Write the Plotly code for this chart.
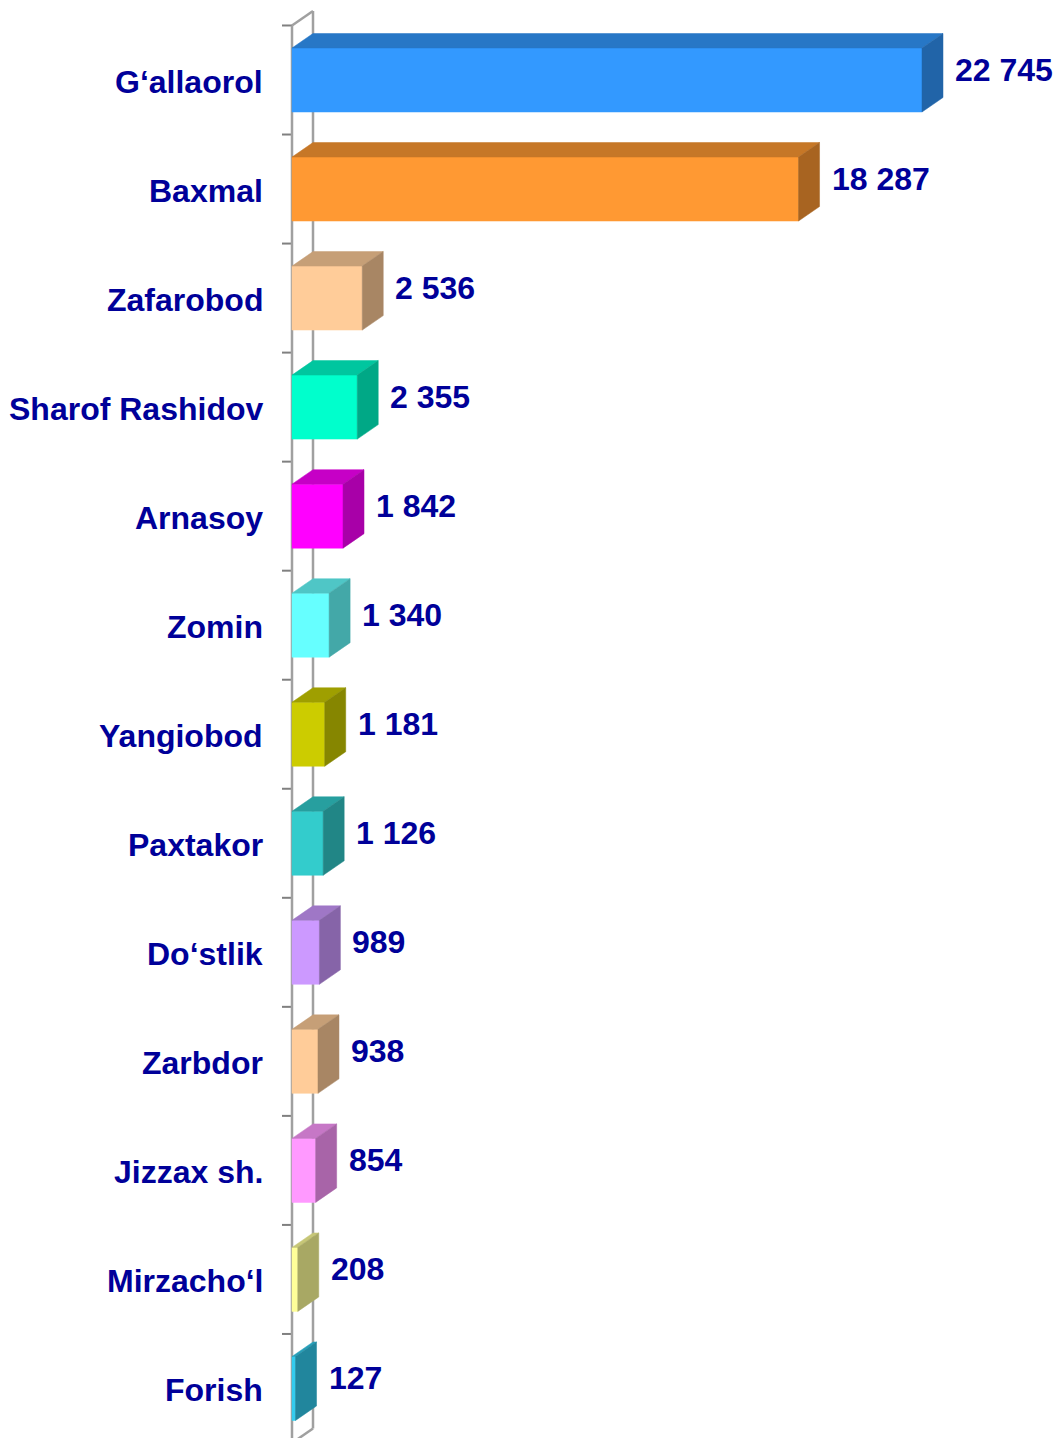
import plotly.graph_objects as go

# ---- data ----
categories = ["G‘allaorol", "Baxmal", "Zafarobod", "Sharof Rashidov", "Arnasoy",
              "Zomin", "Yangiobod", "Paxtakor", "Do‘stlik", "Zarbdor",
              "Jizzax sh.", "Mirzacho‘l", "Forish"]
values = [22745, 18287, 2536, 2355, 1842, 1340, 1181, 1126, 989, 938, 854, 208, 127]
front_colors = ["#3399FF", "#FF9933", "#FFCC99", "#00FFCC", "#FF00FF", "#66FFFF",
                "#CCCC00", "#33CCCC", "#CC99FF", "#FFCC99", "#FF99FF", "#FFFF99",
                "#33CCEE"]

# ---- geometry (pixel-based constants converted to data units) ----
W, H = 1057, 1438
L = 270
px_per_x = 630 / 22745.0          # pixels per value unit
px_per_y = 109.04                 # pixels per category
zero_px = 292
first_center_px = 80

x0 = -(zero_px - L) / px_per_x
x1 = x0 + (W - L) / px_per_x
y_top = -first_center_px / px_per_y
y_bot = (H - first_center_px) / px_per_y

DX = 21 / px_per_x
DY = 14.5 / px_per_y
HALF = 32 / px_per_y
TICK = 10 / px_per_x
n = len(categories)


def shade(hexc, f):
    hexc = hexc.lstrip("#")
    r, g, b = (int(hexc[i:i + 2], 16) for i in (0, 2, 4))
    return "#%02X%02X%02X" % (int(r * f), int(g * f), int(b * f))


def fmt(v):
    return f"{v:,}".replace(",", " ")


fig = go.Figure()
wall = "#A0A0A0"

# tick marks at category boundaries
tx, ty = [], []
for k in range(n + 1):
    yb = k - 0.5
    tx += [-TICK, 0, None]
    ty += [yb, yb, None]
fig.add_trace(go.Scatter(x=tx, y=ty, mode="lines", line=dict(color="#808080", width=2),
                         hoverinfo="skip", showlegend=False))

# wall outline
top_b, bot_b = -0.5, n - 0.5
fig.add_trace(go.Scatter(
    x=[0, 0, None, DX, DX, None, 0, DX, None, 0, DX],
    y=[top_b, bot_b, None, top_b - DY, bot_b - DY, None, top_b, top_b - DY, None, bot_b, bot_b - DY],
    mode="lines", line=dict(color=wall, width=2.5), hoverinfo="skip", showlegend=False))

# bars (front, top, side faces)
for i, (v, c) in enumerate(zip(values, front_colors)):
    t, b = i - HALF, i + HALF
    faces = [
        ([0, v, v, 0, 0], [t, t, b, b, t], c),
        ([0, v, v + DX, DX, 0], [t, t, t - DY, t - DY, t], shade(c, 0.78)),
        ([v, v + DX, v + DX, v, v], [t, t - DY, b - DY, b, t], shade(c, 0.66)),
    ]
    for fx, fy, col in faces:
        fig.add_trace(go.Scatter(x=fx, y=fy, mode="lines", fill="toself", fillcolor=col,
                                 line=dict(width=0.5, color=col), hoverinfo="skip",
                                 showlegend=False))

font = dict(family="Liberation Sans, Arial, sans-serif", size=32, color="#000099", weight="bold")

# category labels
for i, name in enumerate(categories):
    fig.add_annotation(x=0, y=i, xref="x", yref="y", text=name, showarrow=False,
                       xanchor="right", yanchor="middle", xshift=-27, yshift=-2, font=font)

# value labels
for i, v in enumerate(values):
    fig.add_annotation(x=v + DX, y=i - DY, xref="x", yref="y", text=fmt(v), showarrow=False,
                       xanchor="left", yanchor="middle", xshift=10, yshift=-4, font=font)

fig.update_layout(
    width=W, height=H, autosize=False,
    margin=dict(l=L, r=0, t=0, b=0, pad=0),
    paper_bgcolor="white", plot_bgcolor="white",
    xaxis=dict(range=[x0, x1], visible=False, fixedrange=True),
    yaxis=dict(range=[y_bot, y_top], visible=False, fixedrange=True),
    showlegend=False,
)

fig.write_html("out.html", config={"displayModeBar": False},
               post_script="document.body.style.margin='0';document.body.style.overflow='hidden';")
